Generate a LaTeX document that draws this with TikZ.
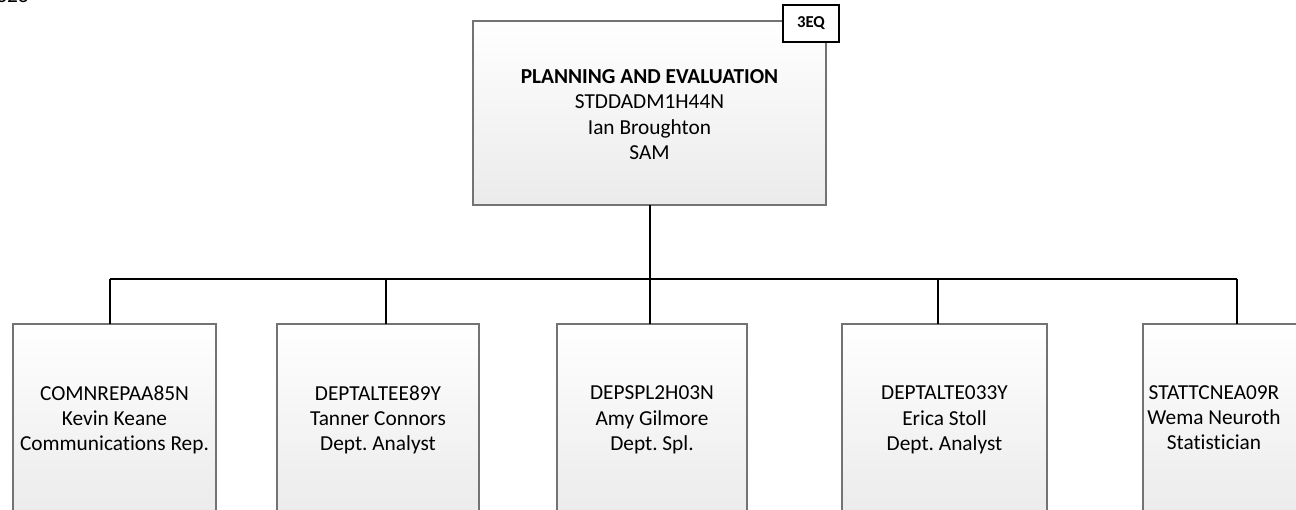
\documentclass[tikz,border=0pt]{standalone}
\usepackage{fontspec}
\setmainfont[Ligatures=NoCommon]{Carlito}
\begin{document}
\frenchspacing
\begin{tikzpicture}[x=0.75pt,y=-0.75pt,
  txt/.style={align=center, font=\fontsize{16pt}{19pt}\selectfont},
  box/.style={draw=black!55, line width=0.9pt, top color=white, bottom color=black!8,
    inner sep=0pt, outer sep=0pt, txt, minimum height=192*0.75pt},
  conn/.style={draw=black, line width=1.5pt},
  tagbox/.style={draw=black, line width=1.5pt, fill=white, inner sep=0pt, outer sep=0pt,
    font=\bfseries\fontsize{12.5pt}{14pt}\selectfont,
    minimum width=56*0.75pt, minimum height=37*0.75pt}]
\useasboundingbox (0,0) rectangle (1296,510);
\node[anchor=base west, inner sep=0pt, font=\fontsize{16pt}{19pt}\selectfont] (pg) at (-4,3) {328};
% top box
\node[box, minimum width=353*0.75pt, minimum height=184*0.75pt] (top) at (649.5,113) {};
\node[txt] (toptxt) at (649.5,114.5)
  {\textbf{PLANNING AND EVALUATION}\\STDDADM1H44N\\Ian Broughton\\SAM};
\node[tagbox] (tag) at (811,23.5) {3EQ};
% children
\node[box, minimum width=203*0.75pt] (c1) at (114.5,420) {COMNREPAA85N\\Kevin Keane\\Communications Rep.};
\node[box, minimum width=202*0.75pt] (c2) at (378,420) {DEPTALTEE89Y\\Tanner Connors\\Dept. Analyst};
\node[box, minimum width=190*0.75pt] (c3) at (652,420) {DEPSPL2H03N\\Amy Gilmore\\Dept. Spl.};
\node[box, minimum width=205*0.75pt] (c4) at (944.5,420) {DEPTALTE033Y\\Erica Stoll\\Dept. Analyst};
\node[box, minimum width=204*0.75pt] (c5) at (1245,420) {};
\node[txt] (c5t) at (1214,417.5) {STATTCNEA09R\\Wema Neuroth\\Statistician};
% connectors
\coordinate (j0) at (650,279);
\coordinate (j1) at (110,279);
\coordinate (j2) at (386,279);
\coordinate (j3) at (650,279);
\coordinate (j4) at (938,279);
\coordinate (j5) at (1237,279);
\draw[conn] (top.south -| j0) -- (j0);
\draw[conn] (j1) -- (j5);
\draw[conn] (j1) -- (j1 |- c1.north);
\draw[conn] (j2) -- (j2 |- c2.north);
\draw[conn] (j3) -- (j3 |- c3.north);
\draw[conn] (j4) -- (j4 |- c4.north);
\draw[conn] (j5) -- (j5 |- c5.north);
\end{tikzpicture}
\end{document}
